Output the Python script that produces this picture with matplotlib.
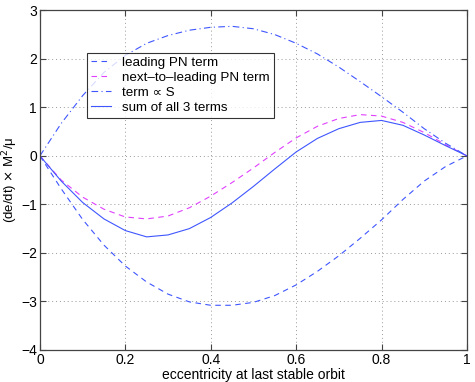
import numpy as np
import matplotlib
matplotlib.use("Agg")
import matplotlib.pyplot as plt

# eccentricity grid and the values
ecc = [0.0, 0.05, 0.1, 0.15, 0.2, 0.25, 0.3, 0.35, 0.4, 0.45, 0.5,
       0.55, 0.6, 0.65, 0.7, 0.75, 0.8, 0.85, 0.9, 0.95, 1.0]
leading = [0.0, -0.68, -1.31, -1.84, -2.27, -2.60, -2.85, -3.01, -3.08, -3.08, -3.02,
           -2.88, -2.66, -2.38, -2.06, -1.70, -1.32, -0.90, -0.52, -0.22, 0.0]
next_leading = [0.0, -0.50, -0.85, -1.10, -1.26, -1.30, -1.24, -1.07, -0.83, -0.55, -0.25,
                0.07, 0.37, 0.61, 0.77, 0.85, 0.82, 0.69, 0.48, 0.23, 0.0]
spin_term = [0.0, 0.67, 1.24, 1.72, 2.07, 2.32, 2.48, 2.59, 2.65, 2.67, 2.62,
             2.50, 2.32, 2.10, 1.83, 1.53, 1.22, 0.90, 0.56, 0.26, 0.0]
total = [0.0, -0.52, -0.96, -1.30, -1.54, -1.67, -1.63, -1.50, -1.27, -0.97, -0.63,
         -0.27, 0.08, 0.36, 0.56, 0.69, 0.73, 0.63, 0.43, 0.21, 0.0]

labels = ["leading PN term", "next\u2013to\u2013leading PN term",
          "term \u221d S", "sum of all 3 terms"]

plt.rcParams["font.family"] = ["Liberation Sans", "DejaVu Sans"]
plt.rcParams["font.size"] = 10

blue = "#3f56ff"
magenta = "#e040ff"

fig = plt.figure(figsize=(4.75, 3.82), dpi=100)
ax = fig.add_axes([0.084, 0.084, 0.899, 0.889])

lw = 0.8
ax.plot(ecc, leading, color=blue, lw=lw, dashes=(5, 4), label=labels[0])
ax.plot(ecc, next_leading, color=magenta, lw=lw, dashes=(5, 4), label=labels[1])
ax.plot(ecc, spin_term, color=blue, lw=lw, dashes=(6, 3, 1, 3), label=labels[2])
ax.plot(ecc, total, color=blue, lw=lw, label=labels[3])

ax.set_xlim(0, 1)
ax.set_ylim(-4, 3)
ax.set_xticks([0, 0.2, 0.4, 0.6, 0.8, 1])
ax.set_xticklabels(["0", "0.2", "0.4", "0.6", "0.8", "1"])
ax.set_yticks(range(-4, 4))
ax.grid(True, linestyle=(0, (1, 3)), color="#999999", linewidth=0.7)
ax.tick_params(direction="in", top=True, right=True, length=4, width=0.8,
               color="#444444", labelsize=10, pad=2)
for s in ax.spines.values():
    s.set_color("#444444")
    s.set_linewidth(0.9)

ax.set_xlabel("eccentricity at last stable orbit", fontsize=10, labelpad=1)
ax.set_ylabel("(de/dt) $\\times$ M$^{2}$/\u03bc", fontsize=9.5, labelpad=0)
ax.yaxis.set_label_coords(-0.046, 0.5)

leg = ax.legend(loc="upper left", bbox_to_anchor=(0.11, 0.875), fontsize=9.6,
                frameon=True, fancybox=False, edgecolor="black",
                handlelength=1.5, borderpad=0.3, labelspacing=0.2,
                handletextpad=0.85, borderaxespad=0)
leg.get_frame().set_linewidth(0.8)

fig.savefig("out.png", dpi=100)
